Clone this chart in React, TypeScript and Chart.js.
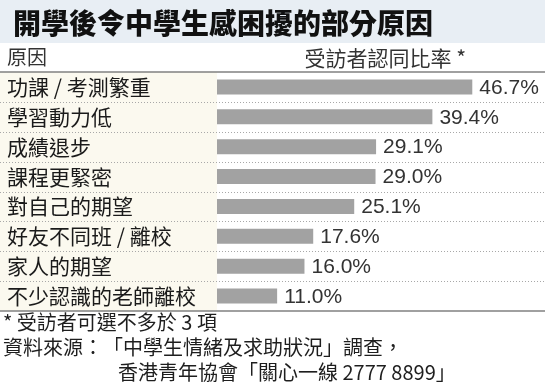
import React, { useEffect, useRef } from "react";
import { Chart, registerables } from "chart.js";

Chart.register(...registerables);

const title = "開學後令中學生感困擾的部分原因";
const headerLeft = "原因";
const headerRight = "受訪者認同比率 *";
const categories = [
  "功課 / 考測繁重",
  "學習動力低",
  "成績退步",
  "課程更緊密",
  "對自己的期望",
  "好友不同班 / 離校",
  "家人的期望",
  "不少認識的老師離校",
];
const values = [46.7, 39.4, 29.1, 29.0, 25.1, 17.6, 16.0, 11.0];
const footnotes = [
  "* 受訪者可選不多於 3 項",
  "資料來源：「中學生情緒及求助狀況」調查，",
  "香港青年協會「關心一線 2777 8899」",
];

const CJK = '"Noto Sans CJK TC", "Noto Sans CJK SC", sans-serif';
const NUM = '"Liberation Sans", Arial, sans-serif';

const backgroundPlugin = {
  id: "bgPanels",
  beforeDraw(chart: any) {
    const { ctx, chartArea, width } = chart;
    ctx.save();
    ctx.fillStyle = "#ffffff";
    ctx.fillRect(0, 0, width, chart.height);
    ctx.fillStyle = "#e8eef4";
    ctx.fillRect(0, 0, width, 43);
    ctx.fillStyle = "#fbf9ef";
    ctx.fillRect(0, chartArea.top, chartArea.left, chartArea.bottom - chartArea.top);
    ctx.restore();
  },
  afterDraw(chart: any) {
    const { ctx, chartArea, width } = chart;
    const y = chart.scales.y;
    ctx.save();
    ctx.strokeStyle = "#a8a8a8";
    ctx.lineWidth = 1;
    ctx.setLineDash([1, 2]);
    for (let i = 0; i < categories.length - 1; i++) {
      const py = Math.round((y.getPixelForValue(i) + y.getPixelForValue(i + 1)) / 2) + 0.5;
      ctx.beginPath();
      ctx.moveTo(0, py);
      ctx.lineTo(width, py);
      ctx.stroke();
    }
    ctx.setLineDash([]);
    ctx.strokeStyle = "#808080";
    ctx.lineWidth = 1.5;
    [chartArea.top, chartArea.bottom].forEach((py: number) => {
      ctx.beginPath();
      ctx.moveTo(0, py);
      ctx.lineTo(width, py);
      ctx.stroke();
    });
    ctx.restore();
  },
};

const valueLabelPlugin = {
  id: "valueLabels",
  afterDatasetsDraw(chart: any) {
    const { ctx } = chart;
    const meta = chart.getDatasetMeta(0);
    ctx.save();
    ctx.font = `21px ${NUM}`;
    ctx.fillStyle = "#333333";
    ctx.textAlign = "left";
    ctx.textBaseline = "middle";
    meta.data.forEach((bar: any, i: number) => {
      ctx.fillText(values[i].toFixed(1) + "%", bar.x + 7, bar.y + 1);
    });
    ctx.restore();
  },
};

export default function App() {
  const canvasRef = useRef<HTMLCanvasElement | null>(null);

  useEffect(() => {
    if (!canvasRef.current) return;
    const chart = new Chart(canvasRef.current, {
      type: "bar",
      data: {
        labels: categories,
        datasets: [
          {
            data: values,
            backgroundColor: "#a2a2a2",
            borderWidth: 0,
            barPercentage: 0.5,
            categoryPercentage: 1,
          },
        ],
      },
      options: {
        indexAxis: "y",
        animation: false,
        responsive: false,
        maintainAspectRatio: false,
        layout: { padding: { left: 7, right: 0, top: 72, bottom: 78 } },
        plugins: {
          legend: { display: false },
          tooltip: { enabled: false },
          title: { display: false },
        },
        scales: {
          x: { display: false, min: 0, max: 60 },
          y: {
            position: "left",
            grid: { display: false, drawTicks: false },
            border: { display: false },
            ticks: {
              crossAlign: "far",
              padding: 0,
              color: "#1a1a1a",
              font: { family: CJK, size: 21 },
            },
            afterFit(scale: any) {
              scale.width = 210;
            },
          },
        },
      },
      plugins: [backgroundPlugin, valueLabelPlugin],
    } as any);
    return () => chart.destroy();
  }, []);

  const textBase: any = {
    position: "absolute",
    whiteSpace: "pre",
    fontFamily: CJK,
    color: "#1e1e1e",
    margin: 0,
    textSpacingTrim: "space-all",
    fontKerning: "none",
  };

  return (
    <div style={{ position: "fixed", left: 0, top: 0, width: 545, height: 389, overflow: "hidden" }}>
      <canvas ref={canvasRef} width={545} height={389} style={{ position: "absolute", left: 0, top: 0, width: 545, height: 389 }} />
      <div style={{ ...textBase, left: 13, top: 4, fontSize: 28, lineHeight: "36px", fontWeight: 900, color: "#111" }}>{title}</div>
      <div style={{ ...textBase, left: 7, top: 45, fontSize: 20, lineHeight: "24px", color: "#333" }}>{headerLeft}</div>
      <div style={{ ...textBase, right: 79, top: 45, fontSize: 21, lineHeight: "24px", color: "#333" }}>{headerRight}</div>
      <div style={{ ...textBase, left: 3, top: 310, fontSize: 20, lineHeight: "24px" }}>{footnotes[0]}</div>
      <div style={{ ...textBase, left: 3, top: 335, fontSize: 20, lineHeight: "24px" }}>{footnotes[1]}</div>
      <div style={{ ...textBase, left: 118, top: 360, fontSize: 20, lineHeight: "24px" }}>{footnotes[2]}</div>
    </div>
  );
}
